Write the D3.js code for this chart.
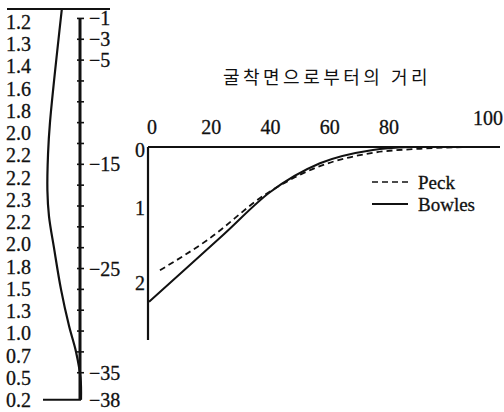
<!DOCTYPE html>
<html><head><meta charset="utf-8">
<script src="https://cdn.jsdelivr.net/npm/d3@7"></script>
<style>html,body{margin:0;padding:0;background:#fff}svg{display:block}</style>
</head><body>
<svg id="chart" width="504" height="412"></svg>
<script>
// ---- left panel: coefficient column and depth profile ----
const coefLabels = ["1.2","1.3","1.4","1.6","1.8","2.0","2.2","2.2","2.3","2.2","2.0","1.8","1.5","1.3","1.0","0.7","0.5","0.2"];
const depthTicks = [1,3,5,7,9,11,13,15,17,19,21,23,25,27,29,31,33,35];
const depthLabels = [1,3,5,15,25,35,38];
const profileDepth = [0, 11, 14, 17.5, 20, 23, 27, 30.5, 33, 35.5, 37.6];
const profileValue = [1.19, 1.94, 2.06, 2.1, 2.0, 1.69, 1.25, 0.75, 0.31, 0.03, 0];

// ---- right panel: settlement vs distance from excavation ----
const title = "굴착면으로부터의 거리";
const distTicks = [0, 20, 40, 60, 80, 100];
const settleTicks = [0, 1, 2];
const bowlesDist = [0, 13.8, 25, 40.8, 57.7, 75.6, 84.8];
const bowlesSettle = [2.29, 1.8, 1.4, 0.78, 0.28, 0.05, 0];
const peckDist = [3.7, 19.6, 39.8, 57.7, 75.6, 86.8, 96.8];
const peckSettle = [1.87, 1.47, 0.8, 0.33, 0.1, 0.03, 0];
const seriesNames = ["Peck", "Bowles"];

const svg = d3.select("#chart");
const serif = "'Liberation Serif','DejaVu Serif',serif";
const ink = "#111";

// depth scale shared by the column and its axis
const depthY = d3.scaleLinear().domain([0, 38]).range([8, 404]);
const coefY = d3.scalePoint().domain(d3.range(coefLabels.length)).range([22, 400]);
const profX = d3.scaleLinear().domain([0, 2.5]).range([81, 41]);
const axisX = 80;
const bottomY = depthY(37.6);

// top and bottom bounding lines
svg.append("line").attr("x1", 7).attr("x2", 110)
  .attr("y1", depthY(0) + 1).attr("y2", depthY(0) + 1)
  .attr("stroke", ink).attr("stroke-width", 2);
svg.append("line").attr("x1", 43).attr("x2", axisX + 1)
  .attr("y1", bottomY).attr("y2", bottomY)
  .attr("stroke", ink).attr("stroke-width", 2);

// coefficient labels
svg.append("g").selectAll("text").data(coefLabels).join("text")
  .attr("x", 6).attr("y", (d, i) => coefY(i)).attr("dy", "0.35em")
  .attr("font-family", serif).attr("font-size", 20).attr("fill", ink)
  .attr("stroke", ink).attr("stroke-width", 0.3)
  .text(d => d);

// profile curve
const profLine = d3.line()
  .x((d, i) => profX(profileValue[i]))
  .y(d => depthY(d))
  .curve(d3.curveCatmullRom.alpha(0.5));
svg.append("path").datum(profileDepth).attr("d", profLine)
  .attr("fill", "none").attr("stroke", ink).attr("stroke-width", 2.2);

// depth axis with crossing ticks
svg.append("line").attr("x1", axisX).attr("x2", axisX)
  .attr("y1", depthY(1)).attr("y2", bottomY)
  .attr("stroke", ink).attr("stroke-width", 3);
svg.append("g").selectAll("line").data(depthTicks).join("line")
  .attr("x1", axisX - 3).attr("x2", axisX + 4)
  .attr("y1", d => depthY(d)).attr("y2", d => depthY(d))
  .attr("stroke", ink).attr("stroke-width", 1.6);
svg.append("g").selectAll("text").data(depthLabels).join("text")
  .attr("x", 89).attr("y", d => Math.min(depthY(d), 400)).attr("dy", "0.35em")
  .attr("font-family", serif).attr("font-size", 20).attr("fill", ink)
  .attr("stroke", ink).attr("stroke-width", 0.3)
  .text(d => "\u2212" + d);

// ---- right panel ----
const x = d3.scaleLinear().domain([0, 80, 100]).range([149, 386, 486]);
const y = d3.scaleLinear().domain([0, 1, 2]).range([147, 205, 280]);

svg.append("text").attr("x", 327).attr("y", 78).attr("dy", "0.35em")
  .attr("text-anchor", "middle")
  .attr("font-family", "'Noto Sans CJK KR',sans-serif").attr("font-size", 18)
  .attr("letter-spacing", 3.5).attr("fill", ink).text(title);

// axis frame: top distance line and left settlement line
svg.append("line").attr("x1", x(0) - 1).attr("x2", 500)
  .attr("y1", y(0)).attr("y2", y(0)).attr("stroke", ink).attr("stroke-width", 2);
svg.append("line").attr("x1", x(0) - 1).attr("x2", x(0) - 1)
  .attr("y1", y(0)).attr("y2", y(2.8)).attr("stroke", ink).attr("stroke-width", 2.2);

svg.append("g").selectAll("text").data(distTicks).join("text")
  .attr("x", d => x(d) + (d === 100 ? 2 : 3)).attr("y", d => d === 100 ? 118 : 127)
  .attr("dy", "0.35em").attr("text-anchor", "middle")
  .attr("font-family", serif).attr("font-size", 20).attr("fill", ink)
  .attr("stroke", ink).attr("stroke-width", 0.3)
  .text(d => d);
svg.append("g").selectAll("text").data(settleTicks).join("text")
  .attr("x", x(0) - 4).attr("y", d => y(d) + 3).attr("dy", "0.35em")
  .attr("text-anchor", "end")
  .attr("font-family", serif).attr("font-size", 20).attr("fill", ink)
  .attr("stroke", ink).attr("stroke-width", 0.3)
  .text(d => d);

const curve = d3.line().x(d => x(d[0])).y(d => y(d[1])).curve(d3.curveMonotoneX);
const bowles = bowlesDist.map((d, i) => [d, bowlesSettle[i]]);
const peck = peckDist.map((d, i) => [d, peckSettle[i]]);
svg.append("path").datum(peck).attr("d", curve)
  .attr("fill", "none").attr("stroke", ink).attr("stroke-width", 1.8)
  .attr("stroke-dasharray", "6,4");
svg.append("path").datum(bowles).attr("d", curve)
  .attr("fill", "none").attr("stroke", ink).attr("stroke-width", 2);

// legend
const legend = svg.append("g").attr("transform", "translate(372,182)");
seriesNames.forEach((name, i) => {
  const g = legend.append("g").attr("transform", `translate(0,${i * 22})`);
  g.append("line").attr("x1", 0).attr("x2", 36).attr("y1", 0).attr("y2", 0)
    .attr("stroke", ink).attr("stroke-width", i === 0 ? 1.6 : 2)
    .attr("stroke-dasharray", i === 0 ? "6,4" : null);
  g.append("text").attr("x", 46).attr("y", 0).attr("dy", "0.35em")
    .attr("font-family", serif).attr("font-size", 19).attr("fill", ink)
    .attr("stroke", ink).attr("stroke-width", 0.3)
    .text(name);
});
</script>
</body></html>
